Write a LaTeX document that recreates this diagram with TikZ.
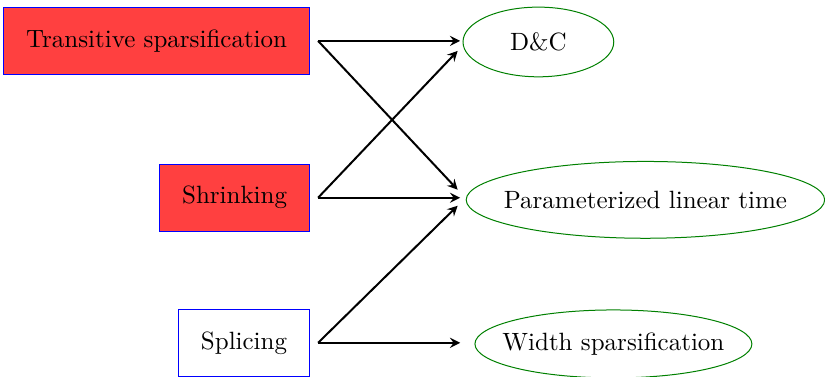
\documentclass[tikz,border=0pt]{standalone}
\usepackage{amsmath, amssymb, tikz}

\begin{document}
\begin{tikzpicture}[
        srcbox/.style={draw=blue, minimum height=0.94cm, inner xsep=9pt},
        link/.style={black, thick, -stealth}
    ]
        \useasboundingbox (0, 0) rectangle (11.60, -5.30);
        % techniques on the left, boxes flush right
        \node[srcbox, fill=red!75, anchor=east] (trans) at (4.36, -0.575) {Transitive sparsification};
        \node[srcbox, fill=red!75, anchor=east] (shrink) at (4.36, -2.78) {Shrinking};
        \node[srcbox, anchor=east] (splice) at (4.36, -4.82) {Splicing};
        % results on the right, with their ellipses
        \node (dc) at (7.57, -0.59) {D\&C};
        \draw[green!50!black] (dc) ellipse (1.06 and 0.49);
        \node (param) at (9.075, -2.81) {Parameterized linear time};
        \draw[green!50!black] (param) ellipse (2.52 and 0.54);
        \node (width) at (8.625, -4.836) {Width sparsification};
        \draw[green!50!black] (width) ellipse (1.947 and 0.478);
        % where the arrows leave and come in
        \coordinate (transout) at ([xshift=3.2pt]trans.east);
        \coordinate (shrinkout) at ([xshift=3.2pt]shrink.east);
        \coordinate (spliceout) at ([xshift=3.2pt]splice.east);
        \coordinate (dcin) at (6.47, -0.575);
        \coordinate (paramin) at (6.47, -2.78);
        \coordinate (widthin) at (6.47, -4.82);
        % arrows from the transitive sparsification
        \draw[link] (transout) -- (dcin);
        \draw[link] (transout) -- ([xshift=-1pt, yshift=3.2pt]paramin);
        % arrows from the shrinking
        \draw[link] (shrinkout) -- ([xshift=-1pt, yshift=-4pt]dcin);
        \draw[link] (shrinkout) -- (paramin);
        % arrows from the splicing
        \draw[link] (spliceout) -- ([xshift=-1pt, yshift=-3.2pt]paramin);
        \draw[link] (spliceout) -- (widthin);
    \end{tikzpicture}
\end{document}
